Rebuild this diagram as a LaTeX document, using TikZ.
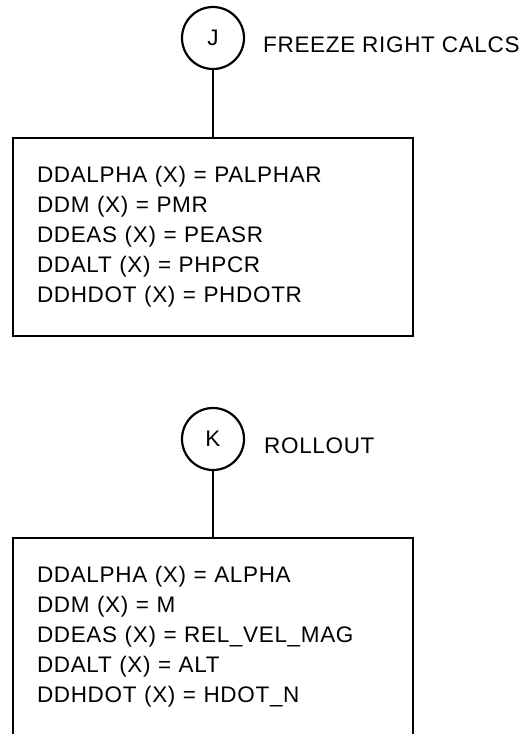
\documentclass[tikz,border=0pt]{standalone}
\usepackage{fontspec}
\setmainfont{Liberation Sans}[LetterSpace=3]
\usetikzlibrary{positioning}

\begin{document}
\begin{tikzpicture}[x=1pt,y=-1pt,font=\fontsize{22.5}{30}\selectfont,
    conn/.style={draw,circle,line width=2.2pt,minimum size=62pt,inner sep=0pt},
    calcbox/.style={draw,line width=2.8pt,minimum width=400pt,minimum height=198pt,
      text width=352pt,align=left,inner sep=0pt},
    lbl/.style={anchor=base west,inner sep=0pt}]
  \useasboundingbox (0,0) rectangle (527,734);
  \clip (0,0) rectangle (527,734);
  % freeze right calcs
  \node[conn] (J) at (213,38) {J};
  \node[lbl] (freeze) at (263,52) {FREEZE RIGHT CALCS};
  \node[calcbox] (boxJ) at (213,237)
     {DDALPHA (X) = PALPHAR\\DDM (X) = PMR\\DDEAS (X) = PEASR\\DDALT (X) = PHPCR\\DDHDOT (X) = PHDOTR};
  \draw[line width=2pt] (J) -- (boxJ);
  % rollout
  \node[conn] (K) at (213,439) {K};
  \node[lbl] (rollout) at (264,453) {ROLLOUT};
  \node[calcbox] (boxK) at (213,637)
     {DDALPHA (X) = ALPHA\\DDM (X) = M\\DDEAS (X) = REL\_VEL\_MAG\\DDALT (X) = ALT\\DDHDOT (X) = HDOT\_N};
  \draw[line width=2pt] (K) -- (boxK);
\end{tikzpicture}
\end{document}
